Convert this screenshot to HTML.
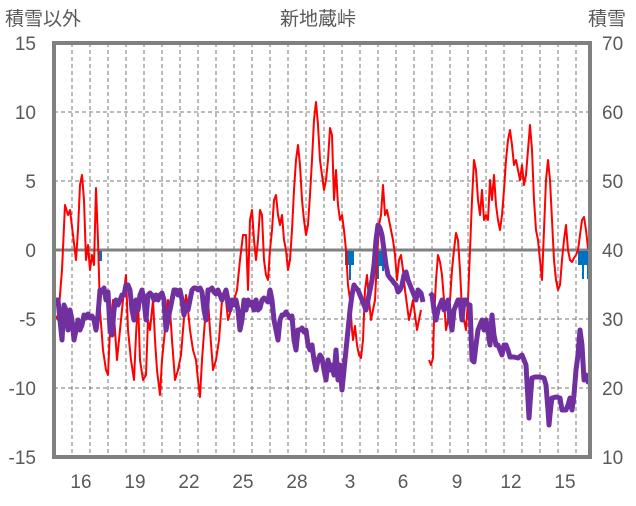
<!DOCTYPE html>
<html><head><meta charset="utf-8"><style>
body{margin:0;background:#fff}
svg text{font-family:"Liberation Sans","Noto Sans CJK JP",sans-serif;fill:#595959}
</style></head><body>
<svg width="636" height="501" viewBox="0 0 636 501" xmlns="http://www.w3.org/2000/svg">
<rect width="636" height="501" fill="#fff"/>
<g stroke="#777" stroke-width="1" stroke-dasharray="4,3">
<line x1="54" y1="112" x2="590" y2="112"/><line x1="54" y1="181" x2="590" y2="181"/>
<line x1="54" y1="319" x2="590" y2="319"/><line x1="54" y1="388" x2="590" y2="388"/>
<line x1="72" y1="43" x2="72" y2="457"/><line x1="90" y1="43" x2="90" y2="457"/><line x1="108" y1="43" x2="108" y2="457"/><line x1="126" y1="43" x2="126" y2="457"/><line x1="144" y1="43" x2="144" y2="457"/><line x1="162" y1="43" x2="162" y2="457"/><line x1="180" y1="43" x2="180" y2="457"/><line x1="198" y1="43" x2="198" y2="457"/><line x1="216" y1="43" x2="216" y2="457"/><line x1="234" y1="43" x2="234" y2="457"/><line x1="252" y1="43" x2="252" y2="457"/><line x1="270" y1="43" x2="270" y2="457"/><line x1="288" y1="43" x2="288" y2="457"/><line x1="306" y1="43" x2="306" y2="457"/><line x1="324" y1="43" x2="324" y2="457"/><line x1="342" y1="43" x2="342" y2="457"/><line x1="360" y1="43" x2="360" y2="457"/><line x1="378" y1="43" x2="378" y2="457"/><line x1="396" y1="43" x2="396" y2="457"/><line x1="414" y1="43" x2="414" y2="457"/><line x1="432" y1="43" x2="432" y2="457"/><line x1="450" y1="43" x2="450" y2="457"/><line x1="468" y1="43" x2="468" y2="457"/><line x1="486" y1="43" x2="486" y2="457"/><line x1="504" y1="43" x2="504" y2="457"/><line x1="522" y1="43" x2="522" y2="457"/><line x1="540" y1="43" x2="540" y2="457"/><line x1="558" y1="43" x2="558" y2="457"/><line x1="576" y1="43" x2="576" y2="457"/>
</g>
<line x1="54" y1="250" x2="590" y2="250" stroke="#808080" stroke-width="3"/>
<!-- snow bars -->
<g fill="#0070C0">
<rect x="98" y="251" width="4" height="10"/>
<rect x="345" y="251" width="9" height="14"/><rect x="349" y="251" width="2" height="29"/>
<rect x="376" y="251" width="8" height="15"/><rect x="377" y="251" width="2" height="28"/><rect x="382" y="251" width="2" height="20"/>
<rect x="578" y="251" width="11" height="14"/><rect x="582" y="251" width="2" height="28"/><rect x="587" y="251" width="2" height="28"/>
</g>
<polyline fill="none" stroke="#FF0000" stroke-width="2" stroke-linejoin="round" points="55,315 58,320 62,270 65,205 68,215 70,210 73,235 76,260 78,230 80,185 82,175 84,200 86,260 88,245 90,270 92,255 94,265 96,188 98,240 100,310 103,350 106,370 108,375 110,330 113,300 115,330 117,360 120,330 123,300 126,275 128,330 131,360 134,380 136,335 138,300 140,360 143,380 146,375 148,320 150,330 153,300 155,340 157,370 160,395 162,360 165,330 168,300 170,310 172,340 175,380 178,370 181,355 183,330 186,295 188,310 190,330 193,350 196,360 198,380 200,397 202,360 205,320 208,300 210,330 213,370 216,360 219,340 222,300 225,290 228,320 231,310 234,300 237,290 240,260 243,235 246,235 248,290 250,220 252,210 254,240 256,260 258,240 260,210 262,215 264,260 266,275 268,280 270,250 272,230 274,200 276,195 278,215 280,225 282,215 284,240 286,250 288,270 290,260 292,230 294,190 296,160 298,145 300,165 302,200 304,220 306,235 308,225 310,195 312,160 314,120 316,102 318,125 320,160 322,175 324,190 326,180 328,160 330,128 332,135 334,200 336,170 338,205 340,220 342,215 344,230 346,250 348,285 350,300 352,330 353,340 355,326 357,345 359,355 361,358 363,340 365,290 367,275 369,300 371,320 373,310 375,300 377,260 379,225 381,215 383,185 385,215 387,210 389,220 391,230 393,240 395,255 397,280 399,260 401,255 403,270 405,290 407,305 409,320 411,310 413,300 415,315 417,330 419,320 421,310"/>
<polyline fill="none" stroke="#FF0000" stroke-width="2" stroke-linejoin="round" points="429,360 431,365 433,358 434,320 436,280 438,255 440,262 442,275 444,300 446,330 448,320 450,300 452,270 454,250 456,233 458,240 460,270 462,310 464,320 466,330 468,300 470,250 472,200 474,160 476,170 478,200 480,215 482,190 484,220 486,215 488,220 490,180 492,200 494,175 496,205 498,220 500,230 502,215 504,190 506,160 508,140 510,130 512,145 514,165 516,160 518,170 520,180 522,165 524,185 526,175 528,150 530,125 532,150 534,200 536,230 538,240 540,260 542,280 544,230 546,180 548,160 550,180 552,220 554,260 556,280 558,290 560,285 562,260 564,240 566,225 568,250 570,260 572,262 574,258 576,255 578,250 580,235 582,220 584,217 586,230 588,248 590,250"/>
<polyline fill="none" stroke="#7030A0" stroke-width="5" stroke-linejoin="round" points="55,300 58,300 60,320 62,340 64,305 66,310 68,330 70,310 72,320 74,340 76,330 78,320 80,330 82,325 84,315 86,318 88,314 90,318 92,316 94,320 96,330 98,315 100,290 102,292 104,288 106,300 108,292 110,330 112,335 114,310 116,300 118,305 120,300 122,295 124,295 126,285 128,285 130,290 132,310 134,320 136,300 138,310 140,295 142,290 144,300 146,320 148,295 150,293 152,295 154,300 156,295 158,300 160,295 162,293 164,300 166,330 168,320 170,310 172,300 174,290 176,290 178,295 180,290 182,300 184,315 186,305 188,310 190,300 192,290 194,288 196,288 198,290 200,288 202,292 204,310 206,320 208,290 210,290 212,288 214,292 216,294 218,290 220,295 222,300 224,295 226,290 228,300 230,310 232,300 234,305 236,300 238,310 240,330 242,320 244,300 246,310 248,300 250,305 252,302 254,310 256,300 258,310 260,308 262,300 264,298 266,300 268,302 270,290 272,300 274,320 276,330 278,340 280,320 282,315 284,315 286,312 288,315 290,318 292,316 294,340 296,350 298,330 300,330 302,328 304,332 306,330 308,345 310,350 312,345 314,360 316,370 318,360 320,355 322,358 324,370 326,380 328,360 330,370 332,365 334,375 336,350 338,380 340,365 342,390 344,370 346,350 348,330 350,310 352,295 354,285 356,288 358,290 360,295 362,300 364,305 366,310 368,300 370,290 372,280 374,265 376,240 378,225 380,228 382,235 384,250 386,265 388,275 390,278 392,280 394,283 396,285 398,292 400,290 402,285 404,275 406,272 408,280 410,285 412,290 414,295 416,300 418,290 421,293 423,302"/>
<polyline fill="none" stroke="#7030A0" stroke-width="5" stroke-linejoin="round" points="430,293 432,295 434,310 436,320 438,310 440,305 442,300 444,310 446,305 448,300 450,320 452,330 454,310 456,305 458,300 460,300 462,320 464,300 466,300 468,305 470,305 472,360 474,362 476,345 478,330 480,325 482,320 484,330 486,320 488,330 490,345 492,315 494,335 496,345 498,345 500,350 502,355 504,345 506,345 508,350 510,357 514,357 518,358 522,355 524,360 526,365 528,400 529,418 531,390 532,378 535,377 540,377 544,378 546,385 548,410 549,425 551,405 552,398 556,397 560,398 562,410 566,410 568,405 570,398 572,410 574,395 576,370 578,355 580,330 582,345 584,380 586,375 588,382 590,380"/>
<rect x="54" y="43" width="536" height="414" fill="none" stroke="#808080" stroke-width="4"/>
<g font-size="19">
<text x="5" y="25">積雪以外</text>
<text x="318" y="25" text-anchor="middle">新地蔵峠</text>
<text x="588" y="25">積雪</text>
</g>
<g font-size="19" text-anchor="end">
<text x="36" y="50">15</text><text x="36" y="119">10</text><text x="36" y="188">5</text><text x="36" y="257">0</text><text x="36" y="326">-5</text><text x="36" y="395">-10</text><text x="36" y="464">-15</text>
</g>
<g font-size="19">
<text x="602" y="50">70</text><text x="602" y="119">60</text><text x="602" y="188">50</text><text x="602" y="257">40</text><text x="602" y="326">30</text><text x="602" y="395">20</text><text x="602" y="464">10</text>
</g>
<g font-size="19" text-anchor="middle">
<text x="81" y="488">16</text><text x="135" y="488">19</text><text x="189" y="488">22</text><text x="243" y="488">25</text><text x="297" y="488">28</text><text x="350" y="488">3</text><text x="403" y="488">6</text><text x="457" y="488">9</text><text x="511" y="488">12</text><text x="565" y="488">15</text>
</g>
</svg>
</body></html>
